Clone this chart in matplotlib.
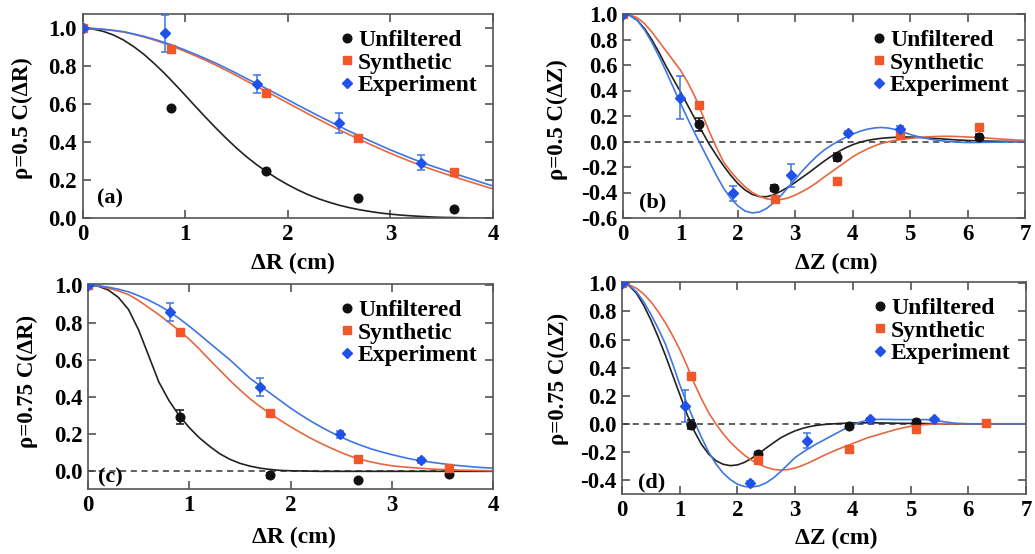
import matplotlib
matplotlib.use("Agg")
import matplotlib.pyplot as plt

plt.rcParams["font.family"] = ["Liberation Serif", "DejaVu Serif"]
plt.rcParams["font.weight"] = "bold"
plt.rcParams["axes.unicode_minus"] = False

W, H = 1035, 554

# ---- fitted curves ----
R_GRID = [0.0, 0.1, 0.2, 0.3, 0.4, 0.5, 0.6, 0.7, 0.8, 0.9, 1.0,
          1.1, 1.2, 1.3, 1.4, 1.5, 1.6, 1.7, 1.8, 1.9, 2.0,
          2.1, 2.2, 2.3, 2.4, 2.5, 2.6, 2.7, 2.8, 2.9, 3.0,
          3.1, 3.2, 3.3, 3.4, 3.5, 3.6, 3.7, 3.8, 3.9, 4.0]
Z_GRID = [0.0, 0.125, 0.25, 0.375, 0.5, 0.625, 0.75, 0.875, 1.0,
          1.125, 1.25, 1.375, 1.5, 1.625, 1.75, 1.875, 2.0,
          2.125, 2.25, 2.375, 2.5, 2.625, 2.75, 2.875, 3.0,
          3.125, 3.25, 3.375, 3.5, 3.625, 3.75, 3.875, 4.0,
          4.125, 4.25, 4.375, 4.5, 4.625, 4.75, 4.875, 5.0,
          5.125, 5.25, 5.375, 5.5, 5.625, 5.75, 5.875, 6.0,
          6.125, 6.25, 6.375, 6.5, 6.625, 6.75, 6.875, 7.0]

A_FIT_UNF = [1.0, 0.996, 0.984, 0.965, 0.938, 0.903, 0.862, 0.814, 0.762, 0.706, 0.648,
             0.589, 0.531, 0.475, 0.421, 0.370, 0.323, 0.281, 0.243, 0.208, 0.177,
             0.149, 0.124, 0.103, 0.085, 0.069, 0.056, 0.045, 0.036, 0.028, 0.022,
             0.017, 0.013, 0.010, 0.007, 0.005, 0.004, 0.003, 0.002, 0.001, 0.001]
A_FIT_SYN = [1.0, 0.998, 0.994, 0.988, 0.980, 0.968, 0.954, 0.938, 0.920, 0.900, 0.878,
             0.855, 0.831, 0.806, 0.779, 0.751, 0.722, 0.694, 0.665, 0.636, 0.607,
             0.578, 0.549, 0.521, 0.493, 0.466, 0.440, 0.415, 0.390, 0.366, 0.342,
             0.320, 0.298, 0.278, 0.258, 0.240, 0.222, 0.205, 0.188, 0.171, 0.155]
A_FIT_EXP = [1.0, 0.999, 0.995, 0.989, 0.982, 0.970, 0.957, 0.942, 0.925, 0.906, 0.885,
             0.863, 0.840, 0.816, 0.790, 0.763, 0.735, 0.708, 0.680, 0.652, 0.624,
             0.595, 0.567, 0.539, 0.512, 0.485, 0.458, 0.433, 0.408, 0.384, 0.360,
             0.338, 0.316, 0.296, 0.276, 0.258, 0.240, 0.222, 0.205, 0.187, 0.170]

B_FIT_UNF = [1.0, 0.988, 0.95, 0.885, 0.80, 0.70, 0.59, 0.49, 0.39,
             0.285, 0.18, 0.08, -0.02, -0.108, -0.19, -0.265, -0.33,
             -0.38, -0.415, -0.432, -0.433, -0.418, -0.39, -0.358, -0.32,
             -0.28, -0.24, -0.197, -0.155, -0.116, -0.08, -0.05, -0.025,
             -0.006, 0.008, 0.018, 0.025, 0.03, 0.033, 0.035, 0.035,
             0.033, 0.03, 0.026, 0.022, 0.018, 0.014, 0.011, 0.008,
             0.006, 0.004, 0.003, 0.002, 0.001, 0.001, 0.0, 0.0]
B_FIT_SYN = [1.0, 0.992, 0.97, 0.925, 0.86, 0.785, 0.71, 0.635, 0.56,
             0.465, 0.355, 0.22, 0.08, -0.045, -0.16, -0.235, -0.30,
             -0.355, -0.40, -0.43, -0.45, -0.457, -0.455, -0.443, -0.42,
             -0.392, -0.36, -0.322, -0.28, -0.24, -0.20, -0.16, -0.12,
             -0.088, -0.06, -0.035, -0.015, -0.002, 0.01, 0.018, 0.025,
             0.03, 0.035, 0.038, 0.04, 0.041, 0.04, 0.038, 0.035,
             0.033, 0.03, 0.026, 0.022, 0.018, 0.015, 0.011, 0.008]
B_FIT_EXP = [1.0, 0.988, 0.95, 0.875, 0.78, 0.67, 0.55, 0.425, 0.30,
             0.18, 0.065, -0.045, -0.155, -0.265, -0.365, -0.445, -0.505,
             -0.545, -0.56, -0.553, -0.525, -0.48, -0.425, -0.36, -0.295,
             -0.23, -0.17, -0.115, -0.068, -0.03, 0.003, 0.032, 0.058,
             0.08, 0.096, 0.106, 0.11, 0.105, 0.093, 0.075, 0.055,
             0.04, 0.027, 0.016, 0.008, 0.002, -0.003, -0.006, -0.008,
             -0.008, -0.007, -0.006, -0.005, -0.004, -0.003, -0.002, -0.001]

C_FIT_UNF = [1.0, 0.995, 0.975, 0.935, 0.87, 0.76, 0.62, 0.48, 0.38, 0.30, 0.235,
             0.18, 0.135, 0.095, 0.065, 0.043, 0.028, 0.017, 0.010, 0.005, 0.003,
             0.002, 0.001, 0.0, 0.0, 0.0, 0.0, 0.0, 0.0, 0.0, 0.0,
             0.0, 0.0, 0.0, 0.0, 0.0, 0.0, 0.0, 0.0, 0.0, 0.0]
C_FIT_SYN = [1.0, 0.996, 0.985, 0.97, 0.95, 0.918, 0.88, 0.842, 0.80, 0.757, 0.71,
             0.657, 0.60, 0.545, 0.49, 0.438, 0.39, 0.348, 0.31, 0.274, 0.24,
             0.208, 0.178, 0.15, 0.125, 0.101, 0.08, 0.063, 0.05, 0.039, 0.03,
             0.024, 0.02, 0.016, 0.012, 0.01, 0.008, 0.006, 0.005, 0.004, 0.003]
C_FIT_EXP = [1.0, 0.998, 0.99, 0.979, 0.965, 0.944, 0.92, 0.892, 0.86, 0.822, 0.78,
             0.736, 0.69, 0.645, 0.60, 0.55, 0.50, 0.46, 0.42, 0.38, 0.34,
             0.304, 0.27, 0.239, 0.21, 0.184, 0.16, 0.139, 0.12, 0.104, 0.09,
             0.077, 0.065, 0.056, 0.048, 0.041, 0.034, 0.029, 0.024, 0.020, 0.017]

D_FIT_UNF = [1.0, 0.982, 0.93, 0.845, 0.74, 0.62, 0.49, 0.35, 0.21,
             0.07, -0.05, -0.145, -0.215, -0.262, -0.288, -0.298, -0.293,
             -0.274, -0.245, -0.21, -0.172, -0.135, -0.10, -0.073, -0.05,
             -0.033, -0.02, -0.011, -0.005, -0.001, 0.002, 0.004, 0.006,
             0.007, 0.007, 0.007, 0.006, 0.005, 0.004, 0.003, 0.003,
             0.002, 0.002, 0.001, 0.001, 0.0, 0.0, 0.0, 0.0,
             0.0, 0.0, 0.0, 0.0, 0.0, 0.0, 0.0, 0.0]
D_FIT_SYN = [1.0, 0.99, 0.965, 0.925, 0.87, 0.80, 0.72, 0.63, 0.53,
             0.415, 0.29, 0.18, 0.08, 0.0, -0.07, -0.13, -0.18,
             -0.225, -0.26, -0.288, -0.31, -0.325, -0.33, -0.326, -0.315,
             -0.297, -0.275, -0.25, -0.225, -0.202, -0.18, -0.16, -0.14,
             -0.12, -0.10, -0.085, -0.07, -0.055, -0.04, -0.028, -0.018,
             -0.011, -0.006, -0.003, -0.001, 0.0, 0.0, 0.0, 0.0,
             0.0, 0.0, 0.0, 0.0, 0.0, 0.0, 0.0, 0.0]
D_FIT_EXP = [1.0, 0.985, 0.94, 0.87, 0.78, 0.68, 0.57, 0.43, 0.28,
             0.145, 0.02, -0.095, -0.20, -0.285, -0.35, -0.397, -0.43,
             -0.447, -0.45, -0.442, -0.42, -0.385, -0.34, -0.29, -0.24,
             -0.205, -0.172, -0.142, -0.115, -0.087, -0.06, -0.032, -0.008,
             0.012, 0.025, 0.03, 0.032, 0.031, 0.03, 0.03, 0.03,
             0.03, 0.03, 0.027, 0.02, 0.012, 0.005, 0.002, 0.0,
             0.0, 0.0, 0.0, 0.0, 0.0, 0.0, 0.0, 0.0]

# ---- measured points ----
A_UNF_X = [0.0, 0.86, 1.79, 2.68, 3.62]
A_UNF_Y = [1.0, 0.582, 0.249, 0.108, 0.049]
A_UNF_E = [0, 0, 0, 0, 0]
A_SYN_X = [0.0, 0.86, 1.79, 2.68, 3.62]
A_SYN_Y = [1.0, 0.893, 0.658, 0.421, 0.245]
A_EXP_X = [0.0, 0.80, 1.70, 2.50, 3.30]
A_EXP_Y = [1.0, 0.974, 0.707, 0.503, 0.293]
A_EXP_E = [0, 0.097, 0.046, 0.053, 0.038]

B_UNF_X = [0.0, 1.32, 2.63, 3.72, 6.2]
B_UNF_Y = [1.0, 0.136, -0.365, -0.12, 0.039]
B_UNF_E = [0, 0.05, 0.02, 0.03, 0.02]
B_SYN_X = [0.0, 1.32, 2.64, 3.72, 4.82, 6.2]
B_SYN_Y = [1.0, 0.287, -0.451, -0.308, 0.05, 0.11]
B_EXP_X = [0.0, 0.99, 1.92, 2.92, 3.92, 4.82]
B_EXP_Y = [1.0, 0.344, -0.407, -0.263, 0.065, 0.10]
B_EXP_E = [0, 0.167, 0.06, 0.09, 0.015, 0.02]

C_UNF_X = [0.0, 0.91, 1.80, 2.67, 3.57]
C_UNF_Y = [1.0, 0.292, -0.022, -0.048, -0.013]
C_UNF_E = [0, 0.035, 0.015, 0, 0.01]
C_SYN_X = [0.0, 0.91, 1.80, 2.67, 3.57]
C_SYN_Y = [1.0, 0.75, 0.316, 0.068, 0.018]
C_EXP_X = [0.0, 0.81, 1.70, 2.49, 3.29]
C_EXP_Y = [1.0, 0.857, 0.454, 0.199, 0.059]
C_EXP_E = [0, 0.047, 0.048, 0.02, 0.015]

D_UNF_X = [0.0, 1.19, 2.35, 3.93, 5.09]
D_UNF_Y = [1.0, -0.005, -0.214, -0.017, 0.014]
D_UNF_E = [0, 0.03, 0.01, 0.01, 0.01]
D_SYN_X = [0.0, 1.19, 2.35, 3.93, 5.09, 6.30]
D_SYN_Y = [1.0, 0.339, -0.26, -0.176, -0.04, 0.005]
D_EXP_X = [0.0, 1.10, 2.21, 3.20, 4.30, 5.40]
D_EXP_Y = [1.0, 0.126, -0.42, -0.119, 0.031, 0.031]
D_EXP_E = [0, 0.115, 0.01, 0.055, 0.01, 0.01]

LEGEND = ["Unfiltered", "Synthetic", "Experiment"]
Y_TICKS_A = [0.0, 0.2, 0.4, 0.6, 0.8, 1.0]
Y_TICKS_B = [-0.6, -0.4, -0.2, 0.0, 0.2, 0.4, 0.6, 0.8, 1.0]
Y_TICKS_D = [-0.4, -0.2, 0.0, 0.2, 0.4, 0.6, 0.8, 1.0]

BLACK = "#111111"
ORANGE = "#f0572a"
ORANGE_LINE = "#e8673e"
BLUE = "#1f52e8"
BLUE_LINE = "#3f76e2"


def frac(x, y):
    return x / W, 1 - y / H


def make_axes(fig, left, top, right, bottom):
    return fig.add_axes([left / W, 1 - bottom / H, (right - left) / W, (bottom - top) / H])


def draw_panel(ax, grid, fits, unf, syn, exp, xlim, ylim, yticks, zero_line):
    if zero_line:
        ax.axhline(0, color="#333333", lw=1.1, ls=(0, (4, 3)), zorder=1)
    ax.plot(grid, fits[0], color="#222222", lw=1.2, zorder=2)
    ax.plot(grid, fits[1], color=ORANGE_LINE, lw=1.2, zorder=2)
    ax.plot(grid, fits[2], color=BLUE_LINE, lw=1.2, zorder=2)

    ux, uy, ue = unf
    sx, sy = syn
    ex, ey, ee = exp
    ax.errorbar(ux, uy, yerr=ue, fmt="none", ecolor=BLACK, elinewidth=1.1,
                capsize=3, capthick=1.1, zorder=3)
    ax.errorbar(ex, ey, yerr=ee, fmt="none", ecolor=BLUE_LINE, elinewidth=1.1,
                capsize=3, capthick=1.1, zorder=3)
    h1, = ax.plot(ux, uy, "o", color=BLACK, ms=6.2, ls="none", zorder=4)
    h2, = ax.plot(sx, sy, "s", color=ORANGE, ms=6.2, ls="none", zorder=4)
    h3, = ax.plot(ex, ey, "D", color=BLUE, ms=4.6, ls="none", zorder=5)

    ax.set_xlim(*xlim)
    ax.set_ylim(*ylim)
    ax.set_xticks(range(int(xlim[1]) + 1))
    ax.set_yticks(yticks)
    ax.set_yticklabels(["%.1f" % v for v in yticks])
    ax.tick_params(direction="in", top=True, right=True, length=6, width=1.1,
                   labelsize=16.5, pad=4, color="#444444")
    for s in ax.spines.values():
        s.set_color("#555555")
        s.set_linewidth(1.2)
    ax.legend([h1, h2, h3], LEGEND, loc="upper right", frameon=False,
              handlelength=0.6, handletextpad=0.15, labelspacing=0.05,
              borderaxespad=0.35, borderpad=0.3,
              prop={"size": 17, "weight": "bold"})


fig = plt.figure(figsize=(W / 100, H / 100), dpi=100)

ax_a = make_axes(fig, 82.5, 14, 493, 218.3)
draw_panel(ax_a, R_GRID, [A_FIT_UNF, A_FIT_SYN, A_FIT_EXP],
           (A_UNF_X, A_UNF_Y, A_UNF_E), (A_SYN_X, A_SYN_Y), (A_EXP_X, A_EXP_Y, A_EXP_E),
           (0, 4), (0.0, 1.075), Y_TICKS_A, False)

ax_b = make_axes(fig, 623, 14, 1025, 218)
draw_panel(ax_b, Z_GRID, [B_FIT_UNF, B_FIT_SYN, B_FIT_EXP],
           (B_UNF_X, B_UNF_Y, B_UNF_E), (B_SYN_X, B_SYN_Y), (B_EXP_X, B_EXP_Y, B_EXP_E),
           (0, 7), (-0.6, 1.0), Y_TICKS_B, True)

ax_c = make_axes(fig, 88, 284, 493, 489)
draw_panel(ax_c, R_GRID, [C_FIT_UNF, C_FIT_SYN, C_FIT_EXP],
           (C_UNF_X, C_UNF_Y, C_UNF_E), (C_SYN_X, C_SYN_Y), (C_EXP_X, C_EXP_Y, C_EXP_E),
           (0, 4), (-0.095, 1.007), Y_TICKS_A, True)

ax_d = make_axes(fig, 622, 282, 1026, 494)
draw_panel(ax_d, Z_GRID, [D_FIT_UNF, D_FIT_SYN, D_FIT_EXP],
           (D_UNF_X, D_UNF_Y, D_UNF_E), (D_SYN_X, D_SYN_Y), (D_EXP_X, D_EXP_Y, D_EXP_E),
           (0, 7), (-0.5, 1.01), Y_TICKS_D, True)

# axis titles and panel tags
ylabels = [("ρ=0.5 C(ΔR)", 22, 118), ("ρ=0.5 C(ΔZ)", 557, 120),
           ("ρ=0.75 C(ΔR)", 27, 381), ("ρ=0.75 C(ΔZ)", 558, 379)]
for txt, x, y in ylabels:
    fig.text(*frac(x, y), txt, rotation=90, ha="center", va="center", fontsize=16.5)

xlabels = [("ΔR (cm)", 293, 263), ("ΔZ (cm)", 836, 263),
           ("ΔR (cm)", 294, 537), ("ΔZ (cm)", 836, 538)]
for txt, x, y in xlabels:
    fig.text(*frac(x, y), txt, ha="center", va="center", fontsize=17)

tags = [("(a)", 110, 198), ("(b)", 653, 202), ("(c)", 110, 477), ("(d)", 652, 482)]
for txt, x, y in tags:
    fig.text(*frac(x, y), txt, ha="center", va="center", fontsize=16)

fig.savefig("out.png", dpi=100)
